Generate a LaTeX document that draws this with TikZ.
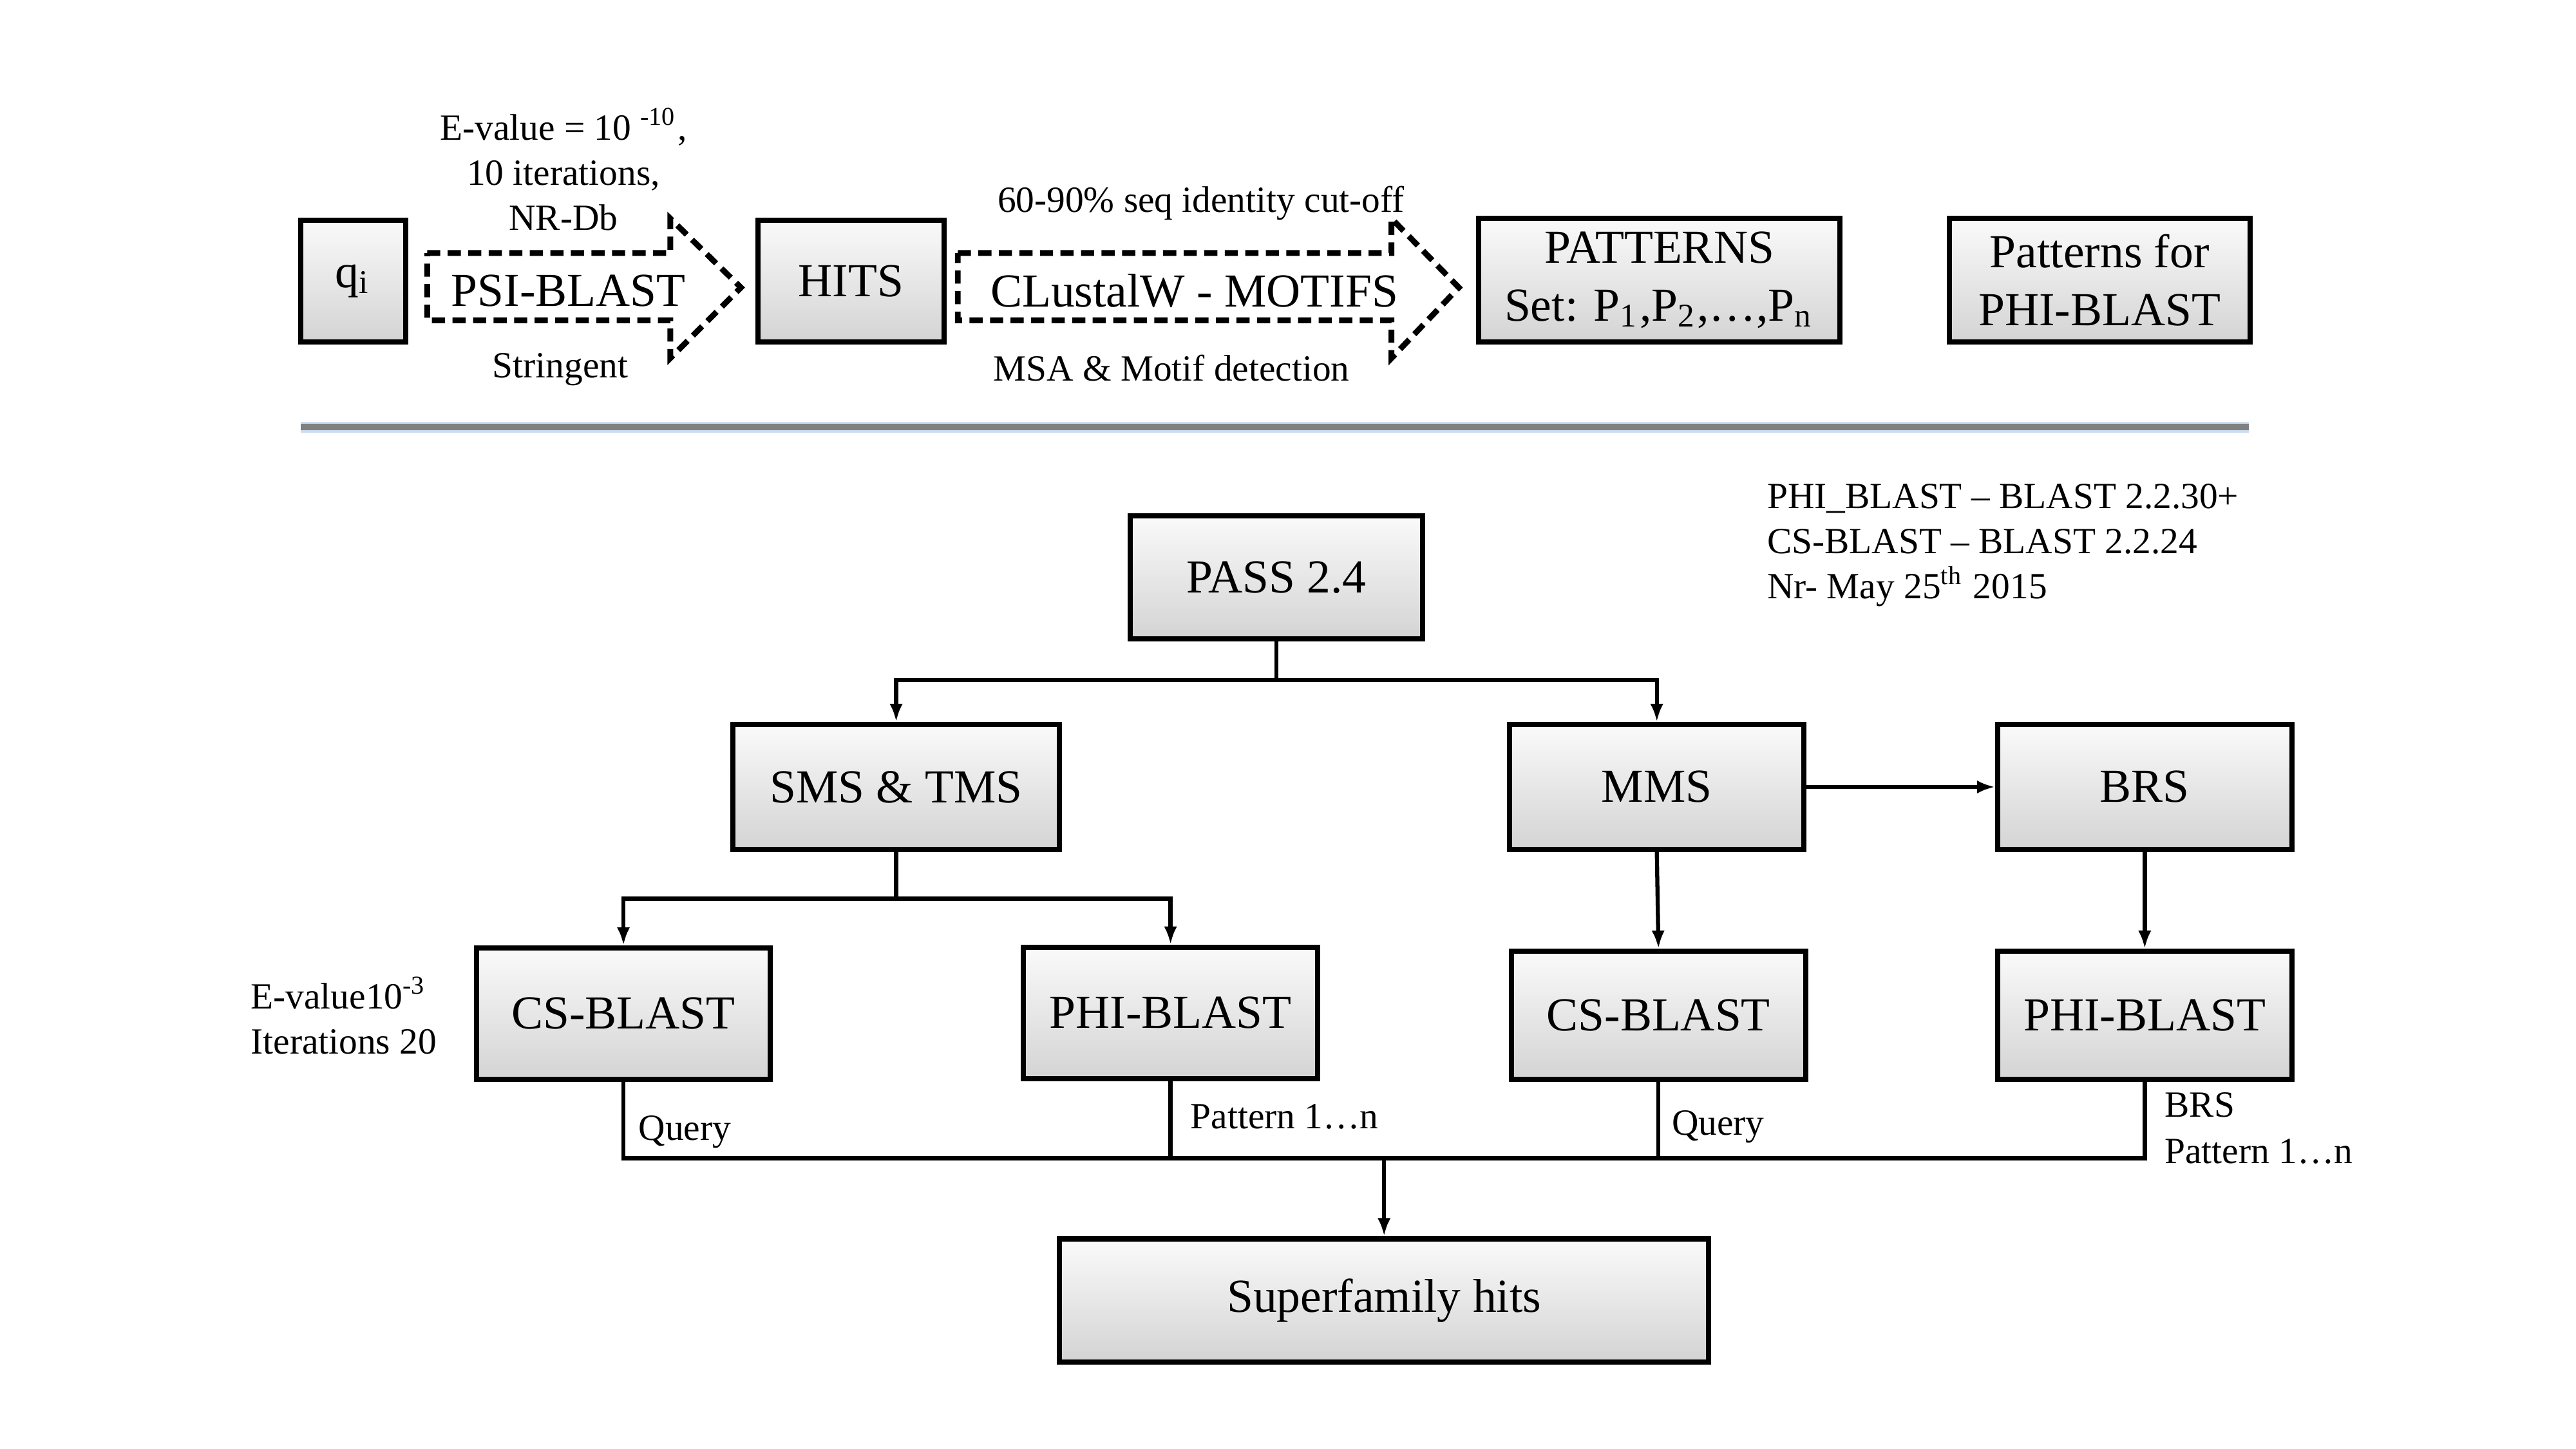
\documentclass[tikz,border=0pt]{standalone}
\usepackage{fontspec}
\setmainfont{Liberation Serif}
\usepackage{tikz}
\usetikzlibrary{positioning, arrows.meta}
\usepackage{xcolor}
\definecolor{sepgray}{RGB}{128,128,128}
\definecolor{sepglow}{RGB}{205,222,240}

\begin{document}
\begin{tikzpicture}[
    x=0.1mm, y=-0.1mm,
    box/.style={draw=black, line width=0.9pt, top color=black!2, bottom color=black!17,
        inner sep=0pt, align=center, font=\fontsize{8.2}{10}\selectfont},
    boxtext/.style={inner sep=0pt, font=\fontsize{8.2}{10}\selectfont},
    note/.style={inner sep=0pt, font=\fontsize{6.4}{7.8}\selectfont},
    conn/.style={line width=0.7pt},
    arr/.style={conn, -{Latex[length=1.1mm, width=0.8mm]}},
    dasharrow/.style={draw=black, line width=1pt, dash pattern=on 0.8mm off 0.45mm}
]
\useasboundingbox (0,0) rectangle (1568,882);

% =============================
% 0. Pattern extraction (top row)
% =============================
\node[box, minimum width=6.4mm, minimum height=7.4mm] (qi) at (215,171) {q\textsubscript{i}};
\node[box, minimum width=11.3mm, minimum height=7.4mm] (hits) at (518,171) {HITS};
\node[box, minimum width=22mm, minimum height=7.5mm] (patterns) at (1010,170.5)
    {PATTERNS\\Set: P\textsubscript{1},P\textsubscript{2},…,P\textsubscript{n}};
\node[box, minimum width=18.3mm, minimum height=7.5mm] (phipat) at (1278,170.5)
    {Patterns for\\PHI-BLAST};

% dashed block arrows
\draw[dasharrow] (260,154) -- (408,154) -- (408,133) -- (451,175)
    -- (408,218) -- (408,195) -- (260,195) -- cycle;
\node[boxtext] (psi) at (346,177) {PSI-BLAST};
\draw[dasharrow] (583,154) -- (847,154) -- (847,133) -- (888,175)
    -- (847,218) -- (847,195) -- (583,195) -- cycle;
\node[boxtext] (clustal) at (727,177) {CLustalW - MOTIFS};

\node[note, align=center] (psiopt) at (343,103)
    {E-value = 10 \textsuperscript{-10},\\10 iterations,\\NR-Db};
\node[note, anchor=base] (stringent) at (341,230) {Stringent};
\node[note, anchor=base] (cutoff) at (731,129) {60-90\% seq identity cut-off};
\node[note, anchor=base] (msa) at (713,232) {MSA \& Motif detection};

% separator
\coordinate (sepL) at (183,260);
\coordinate (sepR) at (1369,260);
\draw[line width=1.9pt, sepglow] (sepL) -- (sepR);
\draw[line width=1.1pt, sepgray] (sepL) -- (sepR);

% =============================
% 1. PASS 2.4 workflow
% =============================
\node[box, minimum width=17.8mm, minimum height=7.5mm] (pass) at (777,351.5) {PASS 2.4};
\node[box, minimum width=19.9mm, minimum height=7.6mm] (smstms) at (545.5,479) {SMS \& TMS};
\node[box, minimum width=17.9mm, minimum height=7.6mm] (mms) at (1008.5,479) {MMS};
\node[box, minimum width=17.9mm, minimum height=7.6mm] (brs) at (1305.5,479) {BRS};

\node[box, minimum width=17.9mm, minimum height=8mm] (csl) at (379.5,617) {CS-BLAST};
\node[box, minimum width=17.9mm, minimum height=8mm] (phil) at (712.5,616.5) {PHI-BLAST};
\node[box, minimum width=17.9mm, minimum height=7.8mm] (csr) at (1009.5,618) {CS-BLAST};
\node[box, minimum width=17.9mm, minimum height=7.8mm] (phir) at (1305.5,618) {PHI-BLAST};

\node[box, minimum width=39.5mm, minimum height=7.5mm] (superfam) at (842.5,791.5) {Superfamily hits};

\node[note, align=left, anchor=north west] (versions) at (1075,294)
    {PHI\_BLAST -- BLAST 2.2.30+\\CS-BLAST -- BLAST 2.2.24\\Nr- May 25\textsuperscript{th} 2015};
\node[note, align=left, anchor=north west] (csopt) at (152,594)
    {E-value10\textsuperscript{-3}\\Iterations 20};

% connectors
\coordinate (split1) at (777,414);
\draw[conn] (pass.south) -- (split1);
\draw[arr] (split1) -| (smstms.north);
\draw[arr] (split1) -| (mms.north);
\draw[arr] (mms) -- (brs);

\coordinate (split2) at (545.5,547);
\draw[conn] (smstms.south) -- (split2);
\draw[arr] (split2) -| (csl.north);
\draw[arr] (split2) -| (phil.north);
\draw[arr] (mms.south) -- (csr.north);
\draw[arr] (brs.south) -- (phir.north);

\coordinate (bus) at (842.5,705);
\draw[conn] (csl.south) |- (bus) -| (phir.south);
\draw[conn] (phil.south) -- (phil.south |- bus);
\draw[conn] (csr.south) -- (csr.south |- bus);
\draw[arr] (bus) -- (superfam.north);

\node[note, anchor=base west] (q1) at (388,694) {Query};
\node[note, anchor=base west] (p1) at (724,687) {Pattern 1…n};
\node[note, anchor=base west] (q2) at (1017,691) {Query};
\node[note, anchor=base west] (brsnote) at (1317,680) {BRS};
\node[note, anchor=base west] (p2) at (1317,708) {Pattern 1…n};
\end{tikzpicture}
\end{document}
